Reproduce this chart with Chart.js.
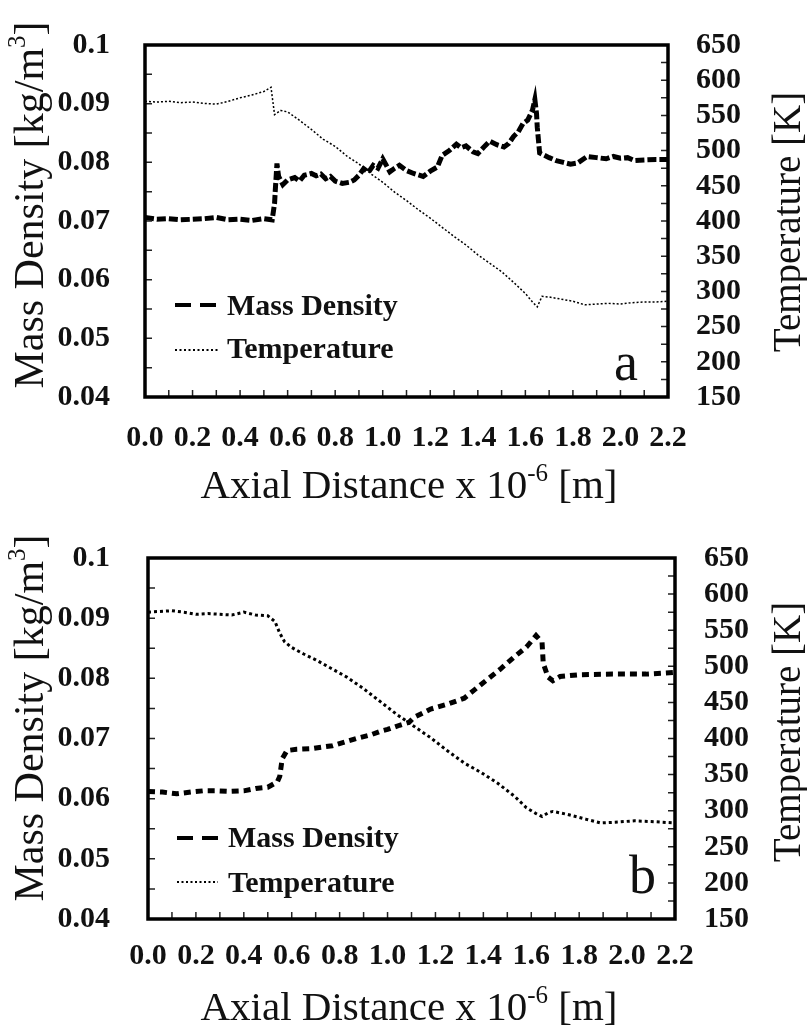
<!DOCTYPE html>
<html>
<head>
<meta charset="utf-8">
<script src="https://cdn.jsdelivr.net/npm/chart.js@4.4.1/dist/chart.umd.min.js"></script>
<style>
  html, body { margin: 0; padding: 0; background: #fff; }
  #wrap { position: relative; width: 807px; height: 1032px; background: #fff; }
  canvas { position: absolute; left: 0; }
  #ca { top: 0; }
  #cb { top: 510px; }
</style>
</head>
<body>
<div id="wrap">
  <canvas id="ca" width="807" height="510"></canvas>
  <canvas id="cb" width="807" height="522"></canvas>
</div>
<script>
// axis ticks
const xMin = 0, xMax = 2.2, xStep = 0.1;
const densMin = 0.04, densMax = 0.1, densStep = 0.005;
const tempMin = 150, tempMax = 650, tempStep = 25;

// panel a
const aDensX = [0, 0.05, 0.1, 0.15, 0.2, 0.25, 0.3, 0.35, 0.4, 0.45, 0.5, 0.535, 0.545, 0.548, 0.555, 0.562, 0.58, 0.6, 0.63, 0.65, 0.67, 0.7, 0.72, 0.74, 0.76, 0.78, 0.8, 0.83, 0.86, 0.88, 0.9, 0.92, 0.94, 0.96, 0.98, 1.0, 1.03, 1.05, 1.07, 1.1, 1.13, 1.17, 1.2, 1.23, 1.25, 1.28, 1.31, 1.33, 1.35, 1.38, 1.4, 1.43, 1.45, 1.48, 1.51, 1.53, 1.55, 1.57, 1.59, 1.61, 1.63, 1.64, 1.647, 1.65, 1.655, 1.66, 1.7, 1.73, 1.76, 1.79, 1.82, 1.86, 1.9, 1.94, 1.97, 2.0, 2.03, 2.06, 2.1, 2.15, 2.2];
const aDensY = [0.0706, 0.0703, 0.0704, 0.0702, 0.0703, 0.0704, 0.0706, 0.0702, 0.0703, 0.0701, 0.0704, 0.0702, 0.0730, 0.0752, 0.0798, 0.0776, 0.0762, 0.0770, 0.0774, 0.0768, 0.0778, 0.0781, 0.0777, 0.0780, 0.0772, 0.0776, 0.0768, 0.0764, 0.0766, 0.0770, 0.0778, 0.0789, 0.0783, 0.0795, 0.0790, 0.0806, 0.0784, 0.0790, 0.0795, 0.0786, 0.0781, 0.0776, 0.0785, 0.0792, 0.0812, 0.0820, 0.0831, 0.0825, 0.0828, 0.0818, 0.0815, 0.0828, 0.0836, 0.0830, 0.0826, 0.0832, 0.0844, 0.0852, 0.0866, 0.0872, 0.0889, 0.0907, 0.0883, 0.0860, 0.0838, 0.0816, 0.0808, 0.0803, 0.0800, 0.0797, 0.0799, 0.0810, 0.0808, 0.0806, 0.0810, 0.0807, 0.0808, 0.0803, 0.0804, 0.0805, 0.0805];
const aTempX = [0, 0.05, 0.1, 0.15, 0.2, 0.25, 0.3, 0.35, 0.4, 0.45, 0.5, 0.53, 0.545, 0.57, 0.6, 0.65, 0.7, 0.75, 0.8, 0.85, 0.9, 0.95, 1.0, 1.05, 1.1, 1.15, 1.2, 1.25, 1.3, 1.35, 1.4, 1.45, 1.5, 1.55, 1.6, 1.63, 1.65, 1.67, 1.7, 1.75, 1.8, 1.85, 1.9, 1.95, 2.0, 2.05, 2.1, 2.15, 2.2];
const aTempY = [570, 569, 570, 568, 569, 567, 566, 570, 575, 579, 584, 590, 551, 557, 555, 543, 530, 516, 506, 492, 481, 467, 455, 441, 429, 416, 404, 391, 378, 366, 352, 340, 328, 313, 297, 285, 278, 293, 292, 289, 286, 281, 282, 283, 282, 284, 285, 285, 286];

// panel b
const bDensX = [0, 0.06, 0.12, 0.18, 0.23, 0.29, 0.34, 0.4, 0.45, 0.5, 0.54, 0.55, 0.56, 0.58, 0.62, 0.68, 0.73, 0.77, 0.82, 0.87, 0.93, 0.97, 1.0, 1.05, 1.09, 1.11, 1.18, 1.25, 1.32, 1.36, 1.41, 1.47, 1.53, 1.58, 1.62, 1.645, 1.65, 1.67, 1.69, 1.72, 1.8, 1.94, 2.08, 2.2];
const bDensY = [0.0612, 0.0611, 0.0608, 0.0611, 0.0613, 0.0613, 0.0612, 0.0613, 0.0617, 0.0619, 0.0628, 0.0637, 0.0666, 0.0680, 0.0682, 0.0683, 0.0686, 0.0688, 0.0694, 0.0700, 0.0706, 0.0712, 0.0715, 0.0722, 0.0727, 0.0735, 0.0749, 0.0757, 0.0767, 0.0780, 0.0796, 0.0815, 0.0836, 0.0852, 0.0871, 0.0860, 0.0825, 0.0802, 0.0796, 0.0803, 0.0806, 0.0807, 0.0807, 0.0810];
const bTempX = [0, 0.05, 0.1, 0.15, 0.2, 0.25, 0.3, 0.35, 0.4, 0.45, 0.5, 0.53, 0.55, 0.57, 0.6, 0.65, 0.7, 0.76, 0.83, 0.9, 0.97, 1.04, 1.11, 1.18, 1.25, 1.32, 1.39, 1.46, 1.53, 1.58, 1.62, 1.645, 1.67, 1.69, 1.75, 1.83, 1.89, 1.95, 2.03, 2.1, 2.2];
const bTempY = [575, 576, 577, 575, 572, 573, 572, 571, 575, 571, 570, 562, 546, 534, 526, 517, 509, 498, 485, 469, 451, 433, 417, 401, 383, 366, 353, 338, 320, 304, 296, 292, 297, 299, 295, 288, 283, 284, 286, 285, 283];

const FONT = "'Liberation Serif', 'Times New Roman', serif";
const INK = '#111';

function pts(xs, ys) {
  return xs.map((x, i) => ({ x: x, y: ys[i] }));
}

function drawSup(ctx, parts, cx, baseY, size) {
  // parts: [text, isSup]
  let total = 0;
  const widths = parts.map(p => {
    ctx.font = (p[1] ? Math.round(size * 0.6) : size) + 'px ' + FONT;
    const w = ctx.measureText(p[0]).width;
    total += w;
    return w;
  });
  let x = cx - total / 2;
  parts.forEach((p, i) => {
    ctx.font = (p[1] ? Math.round(size * 0.6) : size) + 'px ' + FONT;
    ctx.fillText(p[0], x, p[1] ? baseY - size * 0.42 : baseY);
    x += widths[i];
  });
}

// frame, inward ticks, titles, legend and panel letter
function decor(g) {
  return {
    id: 'decor',
    afterDraw(chart) {
      const ctx = chart.ctx;
      const a = chart.chartArea;
      const sx = chart.scales.x, sl = chart.scales.yL, sr = chart.scales.yR;
      ctx.save();
      ctx.strokeStyle = '#222';
      ctx.lineWidth = 1.5;
      ctx.beginPath();
      sx.ticks.forEach(t => {
        const p = sx.getPixelForValue(t.value);
        if (p <= a.left + 2 || p >= a.right - 2) return;
        ctx.moveTo(p, a.bottom); ctx.lineTo(p, a.bottom - 7);
      });
      sl.ticks.forEach(t => {
        const p = sl.getPixelForValue(t.value);
        if (p <= a.top + 2 || p >= a.bottom - 2) return;
        ctx.moveTo(a.left, p); ctx.lineTo(a.left + 7, p);
      });
      sr.ticks.forEach(t => {
        const p = sr.getPixelForValue(t.value);
        if (p <= a.top + 2 || p >= a.bottom - 2) return;
        ctx.moveTo(a.right, p); ctx.lineTo(a.right - 7, p);
      });
      ctx.stroke();

      ctx.strokeStyle = '#000';
      ctx.lineWidth = 3.5;
      ctx.strokeRect(a.left, a.top, a.right - a.left, a.bottom - a.top);

      ctx.fillStyle = INK;
      ctx.textAlign = 'left';
      ctx.textBaseline = 'alphabetic';

      // x title
      drawSup(ctx, [['Axial Distance x 10', false], ['-6', true], [' [m]', false]], 409, g.xTitleY, 41);

      // left title
      ctx.save();
      ctx.translate(g.lTitleX, g.lTitleY);
      ctx.rotate(-Math.PI / 2);
      drawSup(ctx, [['Mass Density [kg/m', false], ['3', true], [']', false]], 0, 0, 42);
      ctx.restore();

      // right title
      ctx.save();
      ctx.translate(g.rTitleX, g.rTitleY);
      ctx.rotate(-Math.PI / 2);
      drawSup(ctx, [['Temperature [K]', false]], 0, 0, 39);
      ctx.restore();

      // legend
      const ds = chart.data.datasets;
      ctx.strokeStyle = '#000';
      ctx.lineWidth = 4;
      ctx.setLineDash([16, 9]);
      ctx.beginPath();
      ctx.moveTo(g.legX0, g.leg1Line); ctx.lineTo(g.legX1, g.leg1Line);
      ctx.stroke();
      ctx.lineWidth = 2;
      ctx.setLineDash([2, 2.5]);
      ctx.beginPath();
      ctx.moveTo(g.legX0, g.leg2Line); ctx.lineTo(g.legX1, g.leg2Line);
      ctx.stroke();
      ctx.setLineDash([]);
      ctx.font = 'bold 30px ' + FONT;
      ctx.fillText(ds[0].label, g.legTextX, g.leg1Base);
      ctx.fillText(ds[1].label, g.legTextX, g.leg2Base);

      // panel letter
      ctx.font = '54px ' + FONT;
      ctx.fillText(g.letter, g.letterX, g.letterY);
      ctx.restore();
    }
  };
}

function makeChart(id, dens, temp, g) {
  const tickFont = { family: FONT, size: 30, weight: 'bold' };
  return new Chart(document.getElementById(id), {
    type: 'line',
    data: {
      datasets: [
        {
          label: 'Mass Density',
          data: dens,
          yAxisID: 'yL',
          borderColor: '#000',
          borderWidth: g.densWidth,
          borderDash: g.densDash,
          pointRadius: 0,
          tension: 0
        },
        {
          label: 'Temperature',
          data: temp,
          yAxisID: 'yR',
          borderColor: '#000',
          borderWidth: g.tempWidth,
          borderDash: g.tempDash,
          pointRadius: 0,
          tension: 0
        }
      ]
    },
    options: {
      responsive: false,
      animation: false,
      layout: { padding: { top: g.padTop, left: 0, right: 0, bottom: 0 } },
      plugins: { legend: { display: false }, tooltip: { enabled: false } },
      scales: {
        x: {
          type: 'linear',
          position: 'bottom',
          min: xMin, max: xMax,
          grid: { display: false },
          border: { display: false },
          ticks: {
            stepSize: xStep,
            autoSkip: false,
            maxRotation: 0,
            padding: g.xPad,
            color: INK,
            font: tickFont,
            callback: v => (Math.round(v * 10) % 2 === 0 ? v.toFixed(1) : '')
          },
          afterFit: s => { s.height = g.xHeight; }
        },
        yL: {
          type: 'linear',
          position: 'left',
          min: densMin, max: densMax,
          grid: { display: false },
          border: { display: false },
          ticks: {
            stepSize: densStep,
            autoSkip: false,
            padding: g.lPad,
            color: INK,
            font: tickFont,
            callback: v => (Math.round(v * 1000) % 10 === 0 ? String(+v.toFixed(2)) : '')
          },
          afterFit: s => { s.width = g.lWidth; }
        },
        yR: {
          type: 'linear',
          position: 'right',
          min: tempMin, max: tempMax,
          grid: { display: false },
          border: { display: false },
          ticks: {
            stepSize: tempStep,
            autoSkip: false,
            padding: g.rPad,
            color: INK,
            font: tickFont,
            callback: v => (v % 50 === 0 ? String(v) : '')
          },
          afterFit: s => { s.width = g.rWidth; }
        }
      }
    },
    plugins: [decor(g)]
  });
}

makeChart('ca', pts(aDensX, aDensY), pts(aTempX, aTempY), {
  padTop: 16, xHeight: 113, lWidth: 145, rWidth: 139,
  xPad: 15, lPad: 27, rPad: 20,
  densWidth: 5, densDash: [9, 3], tempWidth: 1.5, tempDash: [2, 2],
  xTitleY: 498, lTitleX: 43, lTitleY: 205, rTitleX: 800, rTitleY: 222,
  legX0: 175, legX1: 218, leg1Line: 305, leg2Line: 350, legTextX: 227, leg1Base: 315, leg2Base: 358,
  letter: 'a', letterX: 614, letterY: 380
});

makeChart('cb', pts(bDensX, bDensY), pts(bTempX, bTempY), {
  padTop: 32, xHeight: 113, lWidth: 148, rWidth: 132,
  xPad: 11, lPad: 30, rPad: 21,
  densWidth: 5, densDash: [7, 5], tempWidth: 3, tempDash: [3, 3],
  xTitleY: 510, lTitleX: 43, lTitleY: 208, rTitleX: 800, rTitleY: 222,
  legX0: 177, legX1: 218, leg1Line: 328, leg2Line: 372, legTextX: 228, leg1Base: 337, leg2Base: 382,
  letter: 'b', letterX: 629, letterY: 383
});
</script>
</body>
</html>
